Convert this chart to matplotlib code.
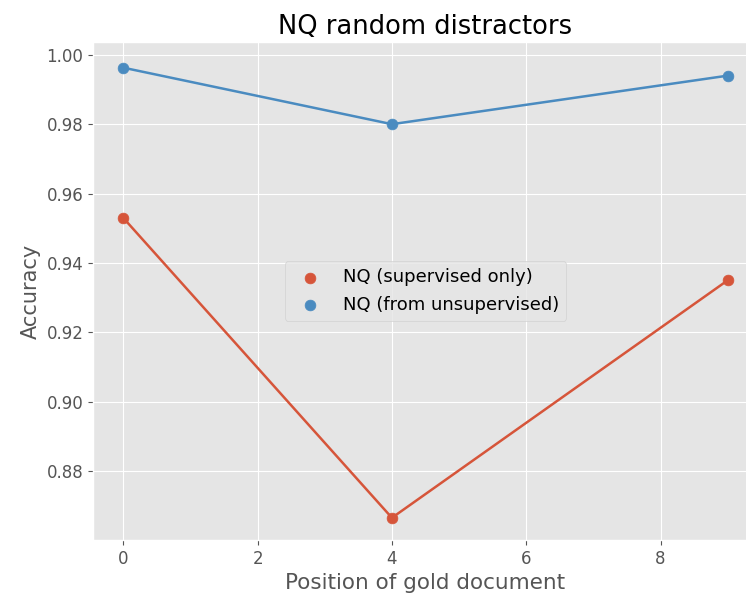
import matplotlib
matplotlib.use("Agg")
import matplotlib.pyplot as plt

plt.style.use("ggplot")

positions = [0, 4, 9]
supervised = [0.953, 0.8665, 0.935]
unsupervised = [0.9963, 0.980, 0.994]

fig = plt.figure(figsize=(7.46, 6.0), dpi=100)
ax = fig.add_axes([93/746, 60/600, (758-93)/746, (558-60)/600])

c_red = "#D6553A"
c_blue = "#4A8BC0"
ax.plot(positions, supervised, color=c_red, lw=1.8)
ax.scatter(positions, supervised, color=c_red, s=60, zorder=3, label="NQ (supervised only)")
ax.plot(positions, unsupervised, color=c_blue, lw=1.8)
ax.scatter(positions, unsupervised, color=c_blue, s=60, zorder=3, label="NQ (from unsupervised)")

ax.set_xlim(-0.45, 9.45)
ax.set_ylim(0.8601, 1.0037)
ax.set_xticks([0, 2, 4, 6, 8])
ax.set_yticks([0.88, 0.90, 0.92, 0.94, 0.96, 0.98, 1.00])
ax.set_yticklabels([f"{v:.2f}" for v in [0.88, 0.90, 0.92, 0.94, 0.96, 0.98, 1.00]])
ax.tick_params(labelsize=12)
ax.set_xlabel("Position of gold document", fontsize=15.5)
ax.set_ylabel("Accuracy", fontsize=15)
ax.set_title("NQ random distractors", fontsize=18.5)
ax.legend(loc="center", fontsize=13)

fig.savefig("out.png", dpi=100)
